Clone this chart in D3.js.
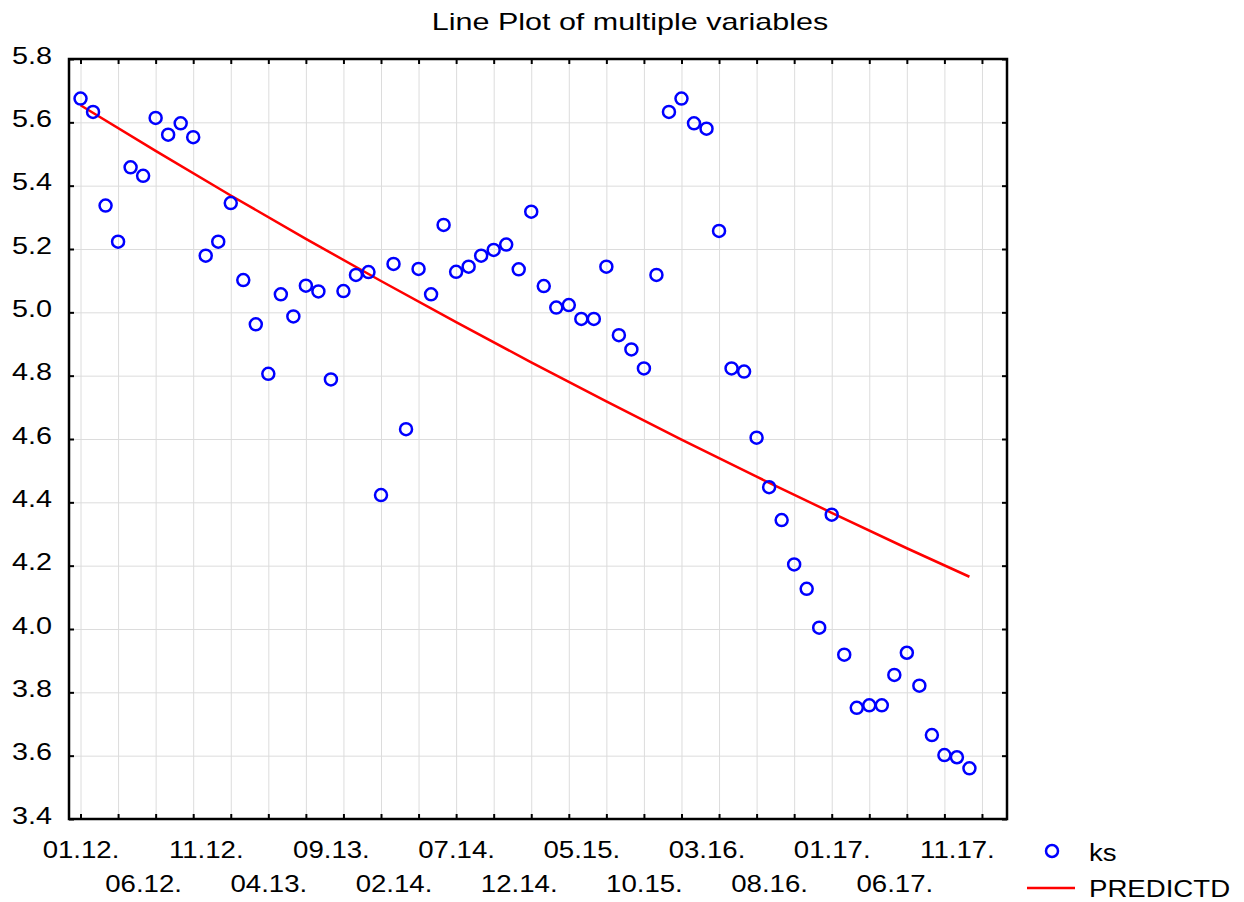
<!DOCTYPE html>
<html>
<head>
<meta charset="utf-8">
<script src="https://cdn.jsdelivr.net/npm/d3@7"></script>
<style>
  body { margin: 0; background: #fff; }
  text { font-family: "Liberation Sans", Arial, sans-serif; fill: #000; }
</style>
</head>
<body>
<div id="chart"></div>
<script>
// monthly index 0 = 01.12 ... 71 = 12.17
var ks = [5.675, 5.633, 5.337, 5.223, 5.458, 5.431, 5.614, 5.561, 5.597, 5.553,
          5.179, 5.223, 5.345, 5.102, 4.962, 4.806, 5.057, 4.987, 5.084, 5.066,
          4.788, 5.067, 5.118, 5.127, 4.423, 5.153, 4.631, 5.137, 5.057, 5.276,
          5.128, 5.144, 5.179, 5.197, 5.214, 5.136, 5.318, 5.083, 5.015, 5.023,
          4.979, 4.979, 5.144, 4.928, 4.883, 4.823, 5.118, 5.633, 5.675, 5.597,
          5.580, 5.257, 4.823, 4.813, 4.604, 4.448, 4.344, 4.204, 4.127, 4.004,
          4.361, 3.919, 3.751, 3.759, 3.759, 3.855, 3.925, 3.821, 3.665, 3.602,
          3.595, 3.560];

// predicted curve read at a few months
var predMonth = [0, 6, 12, 18, 24, 30, 36, 42, 48, 54, 60, 66, 71];
var predVals  = [5.654, 5.510, 5.369, 5.232, 5.099, 4.969, 4.842, 4.719, 4.598, 4.481, 4.367, 4.255, 4.165];

var tickLabels = ["01.12.", "06.12.", "11.12.", "04.13.", "09.13.", "02.14.", "07.14.", "12.14.",
                  "05.15.", "10.15.", "03.16.", "08.16.", "01.17.", "06.17.", "11.17."];
var yTicks = [3.4, 3.6, 3.8, 4.0, 4.2, 4.4, 4.6, 4.8, 5.0, 5.2, 5.4, 5.6, 5.8];

var width = 1244,
    height = 902;
var plotL = 69, plotR = 1007, plotT = 59, plotB = 819;
var sx = 1.15; // reference text is horizontally stretched

var svg = d3.select("#chart").append("svg")
    .attr("width", width)
    .attr("height", height);

var x = d3.scaleLinear().domain([-1, 74]).range([plotL - 1, plotR]);
var y = d3.scaleLinear().domain([3.4, 5.8]).range([plotB, plotT]);

var gridMonths = d3.range(0, 73, 3);

// grid
svg.append("g")
  .attr("transform", "translate(0," + plotB + ")")
  .call(d3.axisBottom(x).tickValues(gridMonths).tickSize(-(plotB - plotT)).tickFormat(""))
  .call(g => g.select(".domain").remove())
  .selectAll("line").attr("stroke", "#dcdcdc").attr("stroke-width", 1);

svg.append("g")
  .attr("transform", "translate(" + plotL + ",0)")
  .call(d3.axisLeft(y).tickValues(yTicks).tickSize(-(plotR - plotL)).tickFormat(""))
  .call(g => g.select(".domain").remove())
  .selectAll("line").attr("stroke", "#dcdcdc").attr("stroke-width", 1);

// inward tick marks on all four sides
function ticks(axis, tr) {
  svg.append("g")
    .attr("transform", tr)
    .call(axis.tickSize(-5).tickFormat(""))
    .call(g => g.select(".domain").remove())
    .selectAll("line").attr("stroke", "#000").attr("stroke-width", 2);
}
ticks(d3.axisBottom(x).tickValues(gridMonths), "translate(0," + plotB + ")");
ticks(d3.axisTop(x).tickValues(gridMonths), "translate(0," + plotT + ")");
ticks(d3.axisLeft(y).tickValues(yTicks), "translate(" + plotL + ",0)");
ticks(d3.axisRight(y).tickValues(yTicks), "translate(" + plotR + ",0)");

// frame
svg.append("rect")
  .attr("x", plotL).attr("y", plotT)
  .attr("width", plotR - plotL).attr("height", plotB - plotT)
  .attr("fill", "none").attr("stroke", "#000").attr("stroke-width", 2.5);

// y labels
var yAx = svg.append("g")
  .attr("transform", "translate(" + plotL + ",0)")
  .call(d3.axisLeft(y).tickValues(yTicks).tickSize(0).tickPadding(0).tickFormat(d3.format(".1f")));
yAx.select(".domain").remove();
yAx.selectAll("text")
  .attr("x", 0).attr("dy", "0.3em")
  .attr("font-size", 24)
  .attr("font-family", "Liberation Sans, Arial, sans-serif")
  .attr("transform", "translate(-17,-3) scale(1.2,1)");

// x labels, alternating rows
var xAx = svg.append("g")
  .attr("transform", "translate(0," + plotB + ")")
  .call(d3.axisBottom(x).tickValues(tickLabels.map((d, i) => i * 5)).tickSize(0)
        .tickFormat((d, i) => tickLabels[i]));
xAx.select(".domain").remove();
xAx.selectAll("text")
  .attr("y", (d, i) => i % 2 === 0 ? 39 : 73)
  .attr("dy", 0)
  .attr("font-size", 24)
  .attr("font-family", "Liberation Sans, Arial, sans-serif")
  .attr("transform", "scale(" + sx + ",1)");

// predicted line
var line = d3.line()
  .x((d, i) => x(predMonth[i]))
  .y(d => y(d));
svg.append("path")
  .datum(predVals)
  .attr("d", line)
  .attr("fill", "none")
  .attr("stroke", "#ff0000")
  .attr("stroke-width", 2.5);

// observed points
svg.append("g").selectAll("circle")
  .data(ks)
  .enter()
  .append("circle")
  .attr("cx", (d, i) => x(i))
  .attr("cy", d => y(d))
  .attr("r", 6)
  .attr("fill", "none")
  .attr("stroke", "#0000ff")
  .attr("stroke-width", 2.5);

// title
svg.append("text")
  .attr("transform", "translate(630,30) scale(1.27,1)")
  .attr("text-anchor", "middle")
  .attr("font-size", 24)
  .text("Line Plot of multiple variables");

// legend
var lg = svg.append("g");
lg.append("circle")
  .attr("cx", 1052).attr("cy", 851).attr("r", 6)
  .attr("fill", "none").attr("stroke", "#0000ff").attr("stroke-width", 2.5);
lg.append("text")
  .attr("transform", "translate(1089,861) scale(1.15,1)")
  .attr("font-size", 24)
  .text("ks");
lg.append("line")
  .attr("x1", 1027).attr("x2", 1075).attr("y1", 888).attr("y2", 888)
  .attr("stroke", "#ff0000").attr("stroke-width", 2.5);
lg.append("text")
  .attr("transform", "translate(1089,897) scale(1.15,1)")
  .attr("font-size", 24)
  .text("PREDICTD");
</script>
</body>
</html>
